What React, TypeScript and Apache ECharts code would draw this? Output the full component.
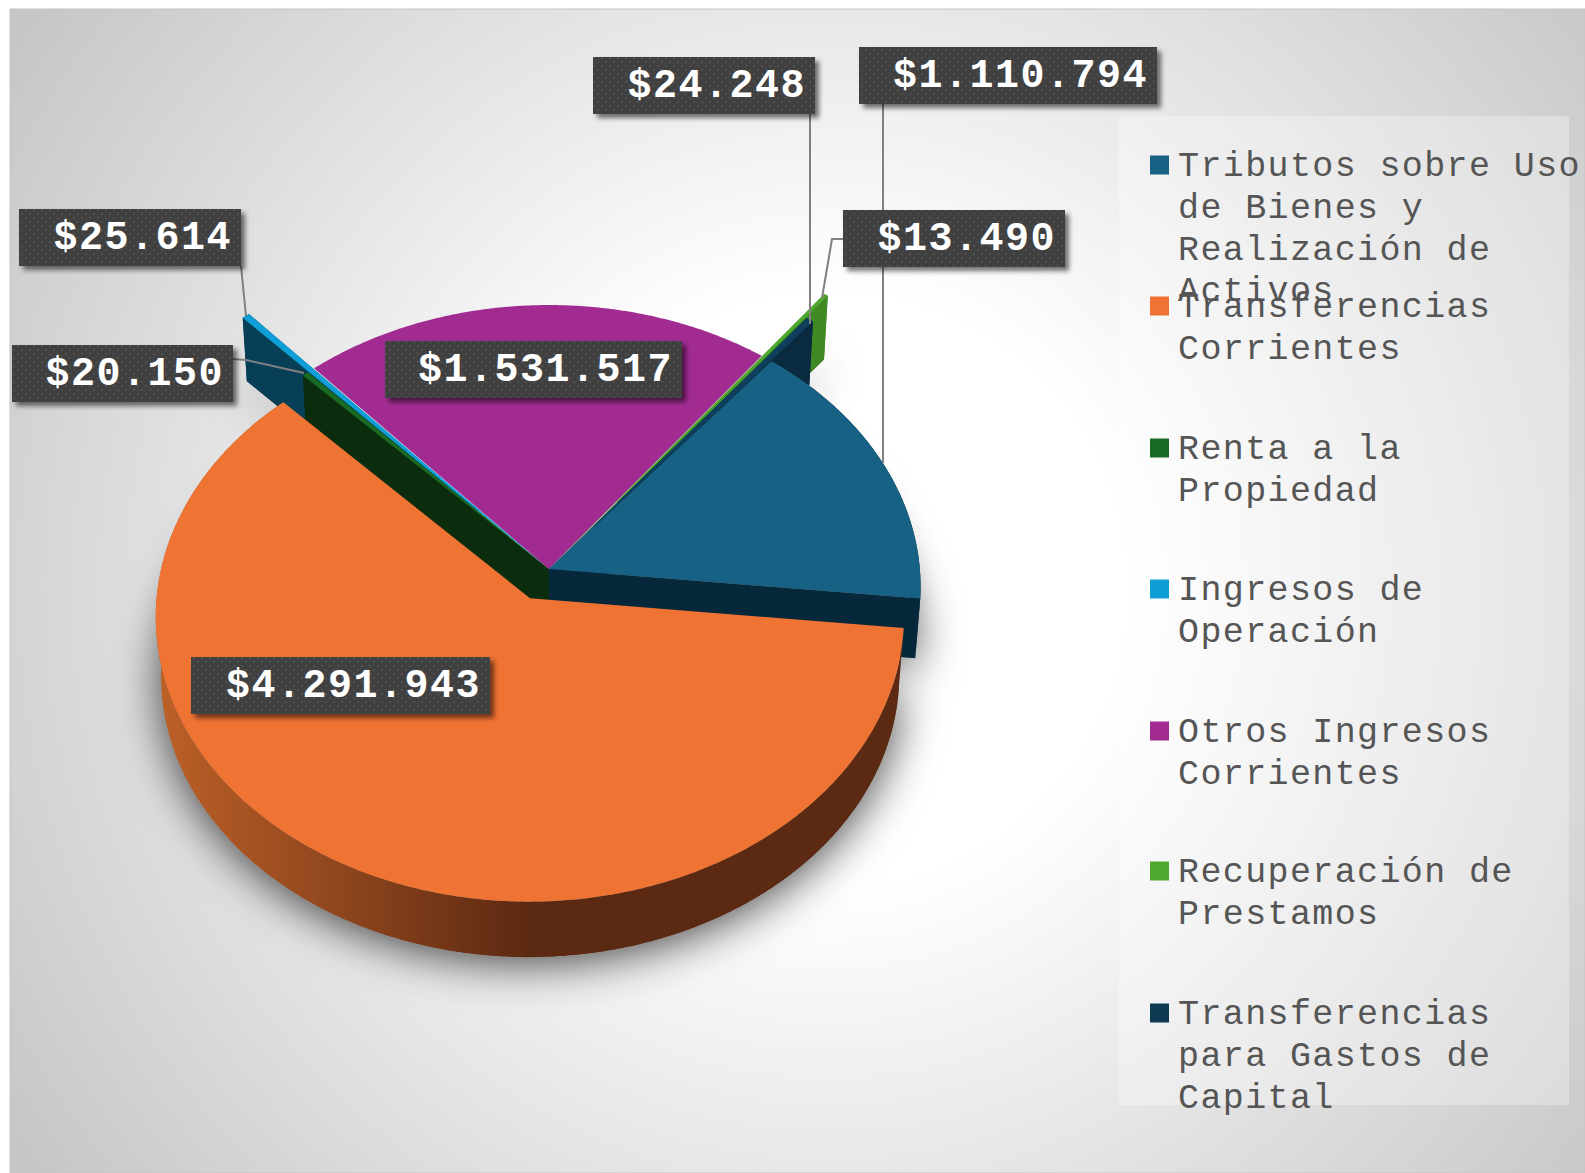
import React, { useEffect, useRef } from "react";
import * as echarts from "echarts";

const names = [
  "Tributos sobre Uso de Bienes y Realización de Activos",
  "Transferencias Corrientes",
  "Renta a la Propiedad",
  "Ingresos de Operación",
  "Otros Ingresos Corrientes",
  "Recuperación de Prestamos",
  "Transferencias para Gastos de Capital",
];
const values = [1110794, 4291943, 20150, 25614, 1531517, 13490, 24248];
const explode = [0, 0.115, 0, 0.29, 0, 0.31, 0.2];
const topColors = ["#166184", "#EF7333", "#196B24", "#0F9ED5", "#A22B92", "#4EA72E", "#0F3F5C"];
const wallColors = ["#07283A", "#5C2912", "#0C2C0E", "#063F56", "#4A1444", "#3F8A22", "#0A2A40"];
const legendLines = [
  ["Tributos sobre Uso", "de Bienes y", "Realización de", "Activos"],
  ["Transferencias", "Corrientes"],
  ["Renta a la", "Propiedad"],
  ["Ingresos de", "Operación"],
  ["Otros Ingresos", "Corrientes"],
  ["Recuperación de", "Prestamos"],
  ["Transferencias", "para Gastos de", "Capital"],
];

const W = 1585, H = 1173;
const S = 1.0108;
const CX = 543 * S, CY = 563 * S, A = 367 * S, B = 277.6 * S, K = 0.0626;
const START = 39;
const DEPTH_S = 0.9865, DEPTH_X = 7.4, DEPTH_Y = 67.7;

const total = values.reduce((a, b) => a + b, 0);
const spans = values.map((v) => (v / total) * 360);
const starts = spans.map((_, i) => START + spans.slice(0, i).reduce((a, b) => a + b, 0));

function proj(u: number, v: number): [number, number] {
  const d = 1 - K * v;
  return [CX + (A * u) / d, CY + (B * v) / d];
}
function pt(i: number, ang: number, r: number): [number, number] {
  const mid = ((starts[i] + spans[i] / 2) * Math.PI) / 180;
  const t = (ang * Math.PI) / 180;
  return proj(explode[i] * Math.sin(mid) + r * Math.sin(t), -explode[i] * Math.cos(mid) - r * Math.cos(t));
}
const down = (p: [number, number]): [number, number] => [p[0] * DEPTH_S + DEPTH_X, p[1] * DEPTH_S + DEPTH_Y];

function arc(i: number, from = starts[i], to = starts[i] + spans[i]) {
  const n = Math.max(2, Math.ceil((to - from) / 0.5));
  const out: [number, number][] = [];
  for (let j = 0; j <= n; j++) out.push(pt(i, from + ((to - from) * j) / n, 1));
  return out;
}
// the thin exploded slices stay joined to the pie's centre, as in the reference
const topFace = (i: number) => [i === 1 ? pt(i, 0, 0) : proj(0, 0), ...arc(i)];
const bottomFace = (i: number) => [pt(i, 0, 0), ...arc(i)].map(down);
const radial = (i: number, ang: number) => {
  const a = pt(i, 0, 0), b = pt(i, ang, 1);
  return [a, b, down(b), down(a)];
};
const arcWall = (i: number) => {
  const a = arc(i);
  return [...a, ...a.slice().reverse().map(down)];
};

const orangeWall = {
  type: "linear", global: true, x: 160, y: 0, x2: 620, y2: 0,
  colorStops: [
    { offset: 0, color: "#BC6027" },
    { offset: 0.4, color: "#8E451D" },
    { offset: 0.8, color: "#5C2912" },
    { offset: 1, color: "#5C2912" },
  ],
};

type Part = { points: [number, number][]; style: any };
const parts: Part[] = [];
const shadow = { shadowBlur: 46, shadowColor: "rgba(0,0,0,0.72)", shadowOffsetY: 6 };
[1, 0, 3, 5, 6].forEach((i) => parts.push({ points: bottomFace(i), style: { fill: "#777", ...shadow } }));
const addWalls = (i: number) => {
  parts.push({ points: radial(i, starts[i]), style: { fill: wallColors[i] } });
  parts.push({ points: radial(i, starts[i] + spans[i]), style: { fill: wallColors[i] } });
  parts.push({ points: arcWall(i), style: { fill: wallColors[i] } });
};
[5, 6, 3, 2, 0].forEach(addWalls);
parts.push({ points: topFace(4), style: { fill: topColors[4] } });
[5, 6, 3, 2, 0].forEach((i) => parts.push({ points: topFace(i), style: { fill: topColors[i] } }));
parts.push({ points: arcWall(1), style: { fill: orangeWall } });
parts.push({ points: topFace(1), style: { fill: topColors[1] } });

const fmt = (v: number) => "$" + String(v).replace(/\B(?=(\d{3})+$)/g, ".");

// label box layout, in the order of `values`: x, y, width, height
const labelBoxes = [
  [859, 47, 298, 57],
  [191, 657, 299, 57],
  [12, 345, 221, 57],
  [19, 209, 222, 57],
  [385, 341, 297, 57],
  [843, 210, 222, 57],
  [593, 57, 222, 57],
];
const leaders: [number, number][][] = [
  [[883, 104], [883, 463]],
  [],
  [[233, 359], [246, 360], [304, 373]],
  [[241, 266], [246, 316]],
  [],
  [[843, 239], [832, 239], [822, 298]],
  [[810, 114], [810, 324]],
];
const legendFirstY = [167, 308, 450, 591, 733, 873, 1015];
const LEGEND_LH = 41.8;

function dotPattern() {
  const c = document.createElement("canvas");
  c.width = 8; c.height = 8;
  const g = c.getContext("2d")!;
  g.fillStyle = "#3F3F3F";
  g.fillRect(0, 0, 8, 8);
  g.fillStyle = "#505050";
  g.fillRect(1, 1, 2, 2);
  g.fillRect(5, 5, 2, 2);
  return c;
}

export default function App() {
  const ref = useRef<HTMLDivElement>(null);
  useEffect(() => {
    const chart = echarts.init(ref.current!, undefined, { renderer: "svg" });
    const pattern = { image: dotPattern(), repeat: "repeat" };
    const graphics: any[] = [
      {
        type: "rect", z: -10, shape: { x: 10, y: 9, width: W - 10, height: H - 9 },
        style: {
          fill: {
            type: "radial", global: true, x: 830, y: 590, r: 985,
            colorStops: [
              { offset: 0, color: "#FFFFFF" },
              { offset: 0.3, color: "#FFFFFF" },
              { offset: 1, color: "#C6C6C6" },
            ],
          },
          stroke: "#C4C4C4", lineWidth: 1,
        },
      },
      {
        type: "rect", z: -5, shape: { x: 1119, y: 116, width: 450, height: 989 },
        style: { fill: "rgba(255,255,255,0.3)" },
      },
    ];
    leaders.forEach((pts) => {
      if (pts.length) graphics.push({ type: "polyline", z: 20, shape: { points: pts }, style: { stroke: "#808080", lineWidth: 2, fill: "none" } });
    });
    labelBoxes.forEach((b, i) => {
      graphics.push({
        type: "rect", z: 30, shape: { x: b[0], y: b[1], width: b[2], height: b[3] },
        style: { fill: pattern, shadowBlur: 5, shadowOffsetX: 4, shadowOffsetY: 4, shadowColor: "rgba(0,0,0,0.55)" },
      });
      graphics.push({
        type: "text", z: 31, x: b[0] + b[2] - 9, y: b[1] + b[3] / 2 + 1,
        style: { text: fmt(values[i]), fill: "#FFFFFF", font: "bold 40px 'Liberation Mono'", align: "right", verticalAlign: "middle" },
      });
    });
    legendLines.forEach((lines, i) => {
      graphics.push({
        type: "rect", z: 30, shape: { x: 1150, y: legendFirstY[i] - 11.5, width: 19, height: 19 },
        style: { fill: i === 6 ? "#0E3A52" : topColors[i] },
      });
      lines.forEach((t, j) => {
        graphics.push({
          type: "text", z: 31, x: 1178, y: legendFirstY[i] + j * LEGEND_LH,
          style: { text: t, fill: "#555555", font: "35px 'Liberation Mono'", align: "left", verticalAlign: "middle" },
        });
      });
    });
    chart.setOption({
      animation: false,
      backgroundColor: "#FFFFFF",
      graphic: graphics,
      series: [
        {
          type: "custom",
          name: names[0],
          coordinateSystem: "none",
          z: 10,
          silent: true,
          data: parts.map((_, i) => i),
          renderItem: (params: any) => {
            const p = parts[params.dataIndex];
            return { type: "polygon", shape: { points: p.points }, style: p.style };
          },
        },
      ],
    });
    return () => chart.dispose();
  }, []);
  return (
    <div style={{ position: "fixed", left: 0, top: 0, width: W, height: H, overflow: "hidden" }}>
      <style>{`svg text[style*="40px"]{letter-spacing:1.5px} svg text[style*="35px"]{letter-spacing:1.38px}`}</style>
      <div ref={ref} style={{ width: W, height: H }} />
    </div>
  );
}
